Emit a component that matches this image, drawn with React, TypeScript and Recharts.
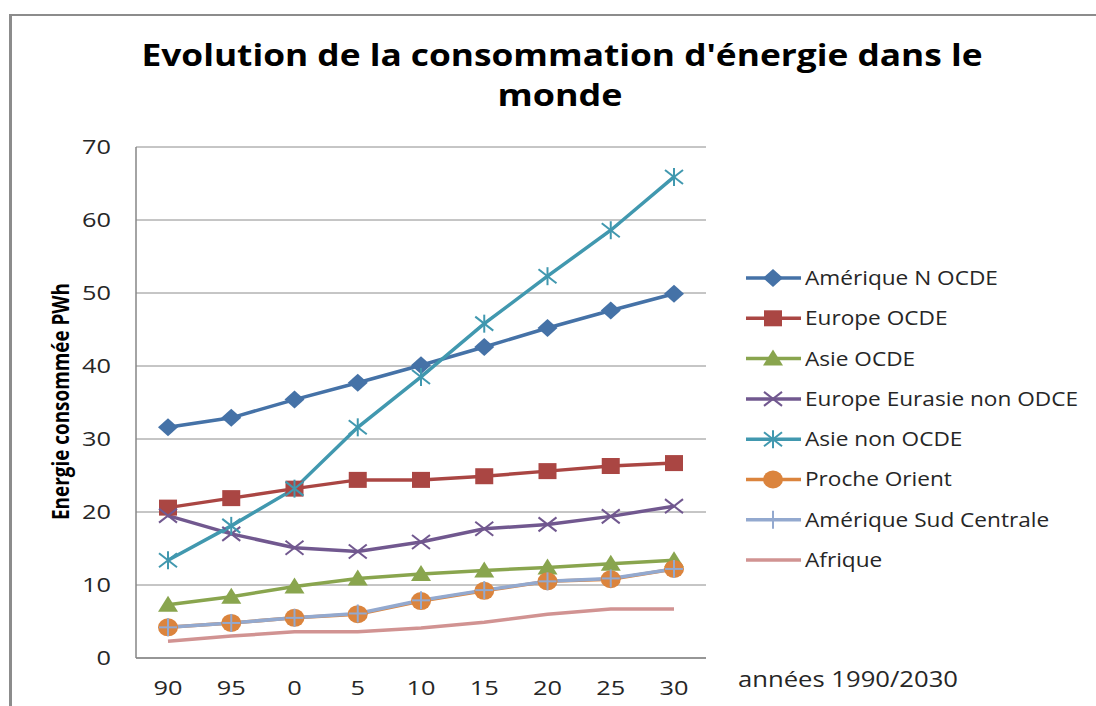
import React from 'react';
import { LineChart, Line, XAxis, YAxis, CartesianGrid } from 'recharts';

const YEARS = ['90', '95', '0', '5', '10', '15', '20', '25', '30'];
const Y_TICKS = [0, 10, 20, 30, 40, 50, 60, 70];

const AMERIQUE_N = [31.6, 32.9, 35.4, 37.7, 40.1, 42.6, 45.2, 47.6, 49.9];
const EUROPE_OCDE = [20.6, 21.9, 23.2, 24.4, 24.4, 24.9, 25.6, 26.3, 26.7];
const ASIE_OCDE = [7.3, 8.4, 9.8, 10.9, 11.5, 12.0, 12.4, 12.9, 13.4];
const EUROPE_EURASIE = [19.5, 17.0, 15.1, 14.6, 15.9, 17.7, 18.3, 19.4, 20.8];
const ASIE_NON_OCDE = [13.4, 18.1, 23.2, 31.6, 38.5, 45.8, 52.3, 58.6, 65.9];
const PROCHE_ORIENT = [4.2, 4.8, 5.5, 6.0, 7.8, 9.2, 10.5, 10.8, 12.2];
const AMERIQUE_SUD = [4.2, 4.8, 5.5, 6.1, 7.9, 9.3, 10.5, 10.9, 12.2];
const AFRIQUE = [2.3, 3.0, 3.6, 3.6, 4.1, 4.9, 6.0, 6.7, 6.7];

const SERIES = [
    { key: 'amN', name: 'Amérique N OCDE', color: '#4572A7', shape: 'diamond', values: AMERIQUE_N },
    { key: 'euO', name: 'Europe OCDE', color: '#AA4643', shape: 'square', values: EUROPE_OCDE },
    { key: 'asO', name: 'Asie OCDE', color: '#89A54E', shape: 'triangle', values: ASIE_OCDE },
    { key: 'euE', name: 'Europe Eurasie non ODCE', color: '#71588F', shape: 'x', values: EUROPE_EURASIE },
    { key: 'asN', name: 'Asie non OCDE', color: '#4198AF', shape: 'star', values: ASIE_NON_OCDE },
    { key: 'po', name: 'Proche Orient', color: '#DB843D', shape: 'circle', values: PROCHE_ORIENT },
    { key: 'amS', name: 'Amérique Sud Centrale', color: '#93A9CF', shape: 'plus', values: AMERIQUE_SUD },
    { key: 'af', name: 'Afrique', color: '#D19392', shape: 'none', values: AFRIQUE },
];

const data = YEARS.map((year, i) => {
    const row: Record<string, string | number> = { year };
    SERIES.forEach((s) => {
        row[s.key] = s.values[i];
    });
    return row;
});

const FONT = '"Open Sans", sans-serif';
const AXIS_GRAY = '#868686';

function Marker({ shape, cx, cy, color }: { shape: string; cx: number; cy: number; color: string }) {
    switch (shape) {
        case 'diamond':
            return <polygon points={`${cx},${cy - 9} ${cx + 10},${cy} ${cx},${cy + 9} ${cx - 10},${cy}`} fill={color} />;
        case 'square':
            return <rect x={cx - 9} y={cy - 8} width={18} height={16} fill={color} />;
        case 'triangle':
            return <polygon points={`${cx},${cy - 9} ${cx + 10},${cy + 7} ${cx - 10},${cy + 7}`} fill={color} />;
        case 'x':
            return (
                <g stroke={color} strokeWidth={2}>
                    <line x1={cx - 9} y1={cy - 7} x2={cx + 9} y2={cy + 7} />
                    <line x1={cx - 9} y1={cy + 7} x2={cx + 9} y2={cy - 7} />
                </g>
            );
        case 'star':
            return (
                <g stroke={color} strokeWidth={2}>
                    <line x1={cx - 9} y1={cy - 7} x2={cx + 9} y2={cy + 7} />
                    <line x1={cx - 9} y1={cy + 7} x2={cx + 9} y2={cy - 7} />
                    <line x1={cx} y1={cy - 9} x2={cx} y2={cy + 9} />
                </g>
            );
        case 'circle':
            return <ellipse cx={cx} cy={cy} rx={10} ry={9} fill={color} />;
        case 'plus':
            return (
                <g stroke={color} strokeWidth={2}>
                    <line x1={cx - 9} y1={cy} x2={cx + 9} y2={cy} />
                    <line x1={cx} y1={cy - 9} x2={cx} y2={cy + 9} />
                </g>
            );
        default:
            return null;
    }
}

const YTick = ({ x, y, payload }: any) => (
    <g transform={`translate(${x},${y}) scale(1.3,1)`}>
        <text textAnchor="end" dy="0.355em" fontFamily={FONT} fontSize={19.5} fill="#262626">
            {payload.value}
        </text>
    </g>
);

const XTick = ({ x, y, payload }: any) => (
    <g transform={`translate(${x},${y}) scale(1.3,1)`}>
        <text textAnchor="middle" dy="0.71em" fontFamily={FONT} fontSize={19.5} fill="#262626">
            {payload.value}
        </text>
    </g>
);

export default function App() {
    return (
        <div style={{ position: 'absolute', left: 0, top: 0, width: 1096, height: 706, background: '#fff', overflow: 'hidden' }}>
            {/* outer frame */}
            <div
                style={{
                    position: 'absolute',
                    left: 9,
                    top: 14,
                    width: 1200,
                    height: 800,
                    borderLeft: '3px solid #8c8c8c',
                    borderTop: '2px solid #8c8c8c',
                }}
            />

            <div style={{ position: 'absolute', left: 0, top: 0 }}>
                <LineChart width={1096} height={706} data={data} margin={{ top: 147, right: 390, bottom: 18, left: 36 }}>
                    <CartesianGrid vertical={false} stroke="#8c8c8c" />
                    <XAxis
                        dataKey="year"
                        padding={{ left: 32, right: 32 }}
                        axisLine={{ stroke: AXIS_GRAY, strokeWidth: 1.5 }}
                        tickLine={false}
                        tickSize={0}
                        tickMargin={23}
                        height={30}
                        interval={0}
                        tick={<XTick />}
                    />
                    <YAxis
                        domain={[0, 70]}
                        ticks={Y_TICKS}
                        width={100}
                        axisLine={{ stroke: AXIS_GRAY, strokeWidth: 1.5 }}
                        tickLine={false}
                        tickSize={0}
                        tickMargin={25}
                        interval={0}
                        tick={<YTick />}
                    />
                    {SERIES.map((s) => (
                        <Line
                            key={s.key}
                            type="linear"
                            dataKey={s.key}
                            name={s.name}
                            stroke={s.color}
                            strokeWidth={3.5}
                            isAnimationActive={false}
                            activeDot={false}
                            dot={
                                s.shape === 'none'
                                    ? false
                                    : (p: any) => (
                                          <Marker key={`${s.key}-${p.index}`} shape={s.shape} cx={p.cx} cy={p.cy} color={s.color} />
                                      )
                            }
                        />
                    ))}
                </LineChart>
            </div>

            {/* title, axis titles and legend */}
            <svg width={1096} height={706} style={{ position: 'absolute', left: 0, top: 0, pointerEvents: 'none' }}>
                <text
                    x={562}
                    y={66}
                    textAnchor="middle"
                    fontFamily={FONT}
                    fontWeight={700}
                    fontSize={31}
                    fill="#000"
                    textLength={841}
                    lengthAdjust="spacingAndGlyphs"
                >
                    Evolution de la consommation d'énergie dans le
                </text>
                <text
                    x={560}
                    y={106}
                    textAnchor="middle"
                    fontFamily={FONT}
                    fontWeight={700}
                    fontSize={31}
                    fill="#000"
                    textLength={125}
                    lengthAdjust="spacingAndGlyphs"
                >
                    monde
                </text>

                <text
                    transform="translate(69,401.5) rotate(-90)"
                    textAnchor="middle"
                    fontFamily={FONT}
                    fontWeight={700}
                    fontSize={24}
                    fill="#000"
                    textLength={237}
                    lengthAdjust="spacingAndGlyphs"
                >
                    Energie consommée  PWh
                </text>

                <text
                    x={738}
                    y={687}
                    fontFamily={FONT}
                    fontSize={21}
                    fill="#262626"
                    textLength={220}
                    lengthAdjust="spacingAndGlyphs"
                >
                    années 1990/2030
                </text>

                {SERIES.map((s, i) => {
                    const cy = 278 + i * 40.3;
                    return (
                        <g key={s.key}>
                            <line x1={746} y1={cy} x2={801} y2={cy} stroke={s.color} strokeWidth={3.5} />
                            <Marker shape={s.shape} cx={773} cy={cy} color={s.color} />
                            <g transform={`translate(805,${cy}) scale(1.16,1)`}>
                                <text dy="0.355em" fontFamily={FONT} fontSize={19.5} fill="#262626">
                                    {s.name}
                                </text>
                            </g>
                        </g>
                    );
                })}
            </svg>
        </div>
    );
}
